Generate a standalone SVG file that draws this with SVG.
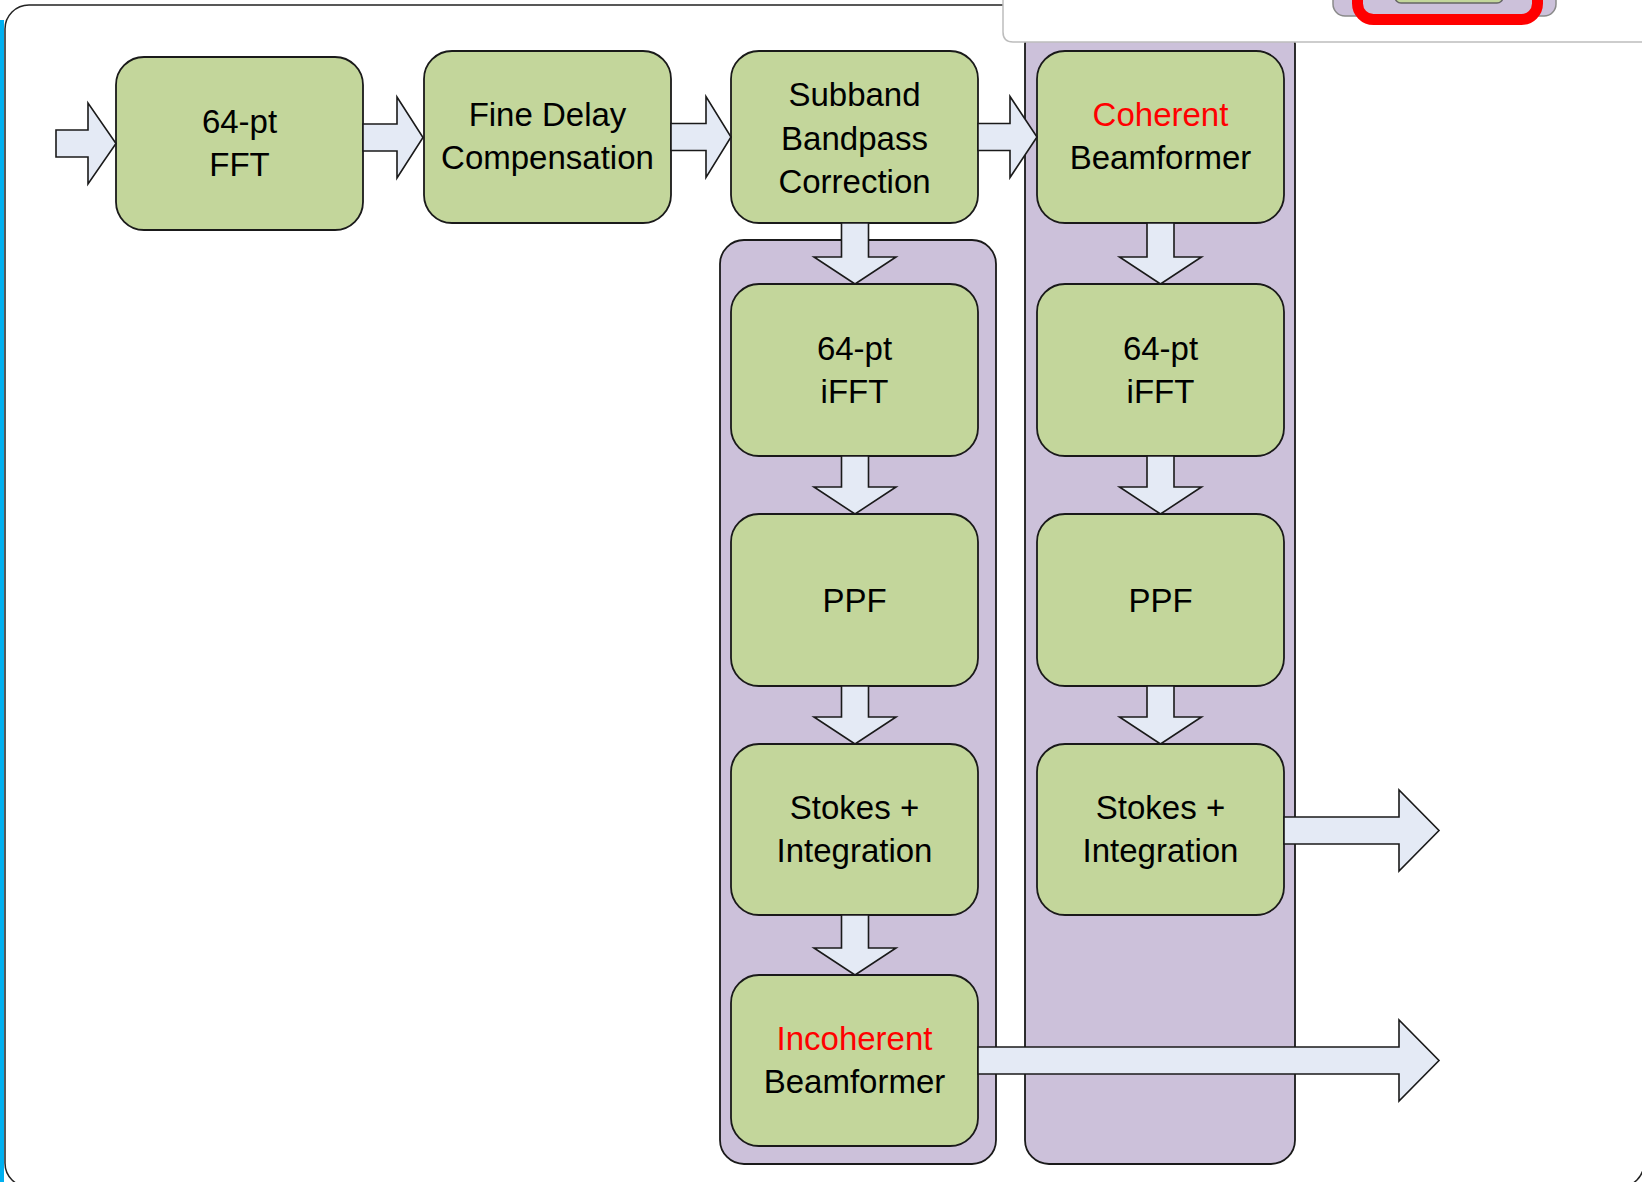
<svg xmlns="http://www.w3.org/2000/svg" width="1642" height="1182" viewBox="0 0 1642 1182">
<style>
.box{fill:#C3D69B;stroke:#1a1a1a;stroke-width:1.8}
.col{fill:#CCC1DA;stroke:#1a1a1a;stroke-width:1.8}
.arr{fill:#E4EAF5;stroke:#1a1a1a;stroke-width:1.6;stroke-linejoin:miter}
text{font-family:"Liberation Sans",Arial,sans-serif;font-size:33px;fill:#000;text-anchor:middle}
.red{fill:#FF0000}
</style>
<rect x="0" y="0" width="1642" height="1182" fill="#FFFFFF"/>
<rect id="frame" x="5" y="5" width="1639" height="1182" rx="24" fill="#FFFFFF" stroke="#222" stroke-width="1.5"/>
<rect id="blue-strip" x="0" y="20" width="4" height="1162" fill="#00B0F0"/>

<g id="column-incoherent"><rect class="col" x="720" y="240" width="276" height="924" rx="24"/></g>
<g id="column-coherent"><rect class="col" x="1025" y="20" width="270" height="1144" rx="24"/></g>

<g id="fft64"><rect class="box" x="116" y="57" width="247" height="173" rx="28"/>
<text x="239.5" y="132.5">64-pt</text><text x="239.5" y="175.5">FFT</text></g>
<g id="fine-delay"><rect class="box" x="424" y="51" width="247" height="172" rx="28"/>
<text x="547.5" y="126">Fine Delay</text><text x="547.5" y="169">Compensation</text></g>
<g id="subband"><rect class="box" x="731" y="51" width="247" height="172" rx="28"/>
<text x="854.5" y="105.5">Subband</text><text x="854.5" y="149.5">Bandpass</text><text x="854.5" y="192.5">Correction</text></g>
<g id="coherent-bf"><rect class="box" x="1037" y="51" width="247" height="172" rx="28"/>
<text x="1160.5" y="126" class="red">Coherent</text><text x="1160.5" y="169">Beamformer</text></g>

<g id="ifft-left"><rect class="box" x="731" y="284" width="247" height="172" rx="28"/>
<text x="854.5" y="360">64-pt</text><text x="854.5" y="403">iFFT</text></g>
<g id="ppf-left"><rect class="box" x="731" y="514" width="247" height="172" rx="28"/>
<text x="854.5" y="612">PPF</text></g>
<g id="stokes-left"><rect class="box" x="731" y="744" width="247" height="171" rx="28"/>
<text x="854.5" y="819">Stokes +</text><text x="854.5" y="862">Integration</text></g>
<g id="incoherent-bf"><rect class="box" x="731" y="975" width="247" height="171" rx="28"/>
<text x="854.5" y="1050" class="red">Incoherent</text><text x="854.5" y="1093">Beamformer</text></g>

<g id="ifft-right"><rect class="box" x="1037" y="284" width="247" height="172" rx="28"/>
<text x="1160.5" y="360">64-pt</text><text x="1160.5" y="403">iFFT</text></g>
<g id="ppf-right"><rect class="box" x="1037" y="514" width="247" height="172" rx="28"/>
<text x="1160.5" y="612">PPF</text></g>
<g id="stokes-right"><rect class="box" x="1037" y="744" width="247" height="171" rx="28"/>
<text x="1160.5" y="819">Stokes +</text><text x="1160.5" y="862">Integration</text></g>

<g id="connectors">
<polygon class="arr" points="56,130 88,130 88,103 116,143.5 88,184 88,157 56,157"/>
<polygon class="arr" points="363,124 397,124 397,97 423,137.5 397,178 397,151 363,151"/>
<polygon class="arr" points="671,123.5 706,123.5 706,96.5 731,137 706,177.5 706,150.5 671,150.5"/>
<polygon class="arr" points="978,123.5 1010,123.5 1010,96.5 1037,137 1010,177.5 1010,150.5 978,150.5"/>

<polygon class="arr" points="841.5,223 868.5,223 868.5,257 896,257 855,284 814,257 841.5,257"/>
<polygon class="arr" points="841.5,456 868.5,456 868.5,487 896,487 855,514 814,487 841.5,487"/>
<polygon class="arr" points="841.5,686 868.5,686 868.5,717 896,717 855,744 814,717 841.5,717"/>
<polygon class="arr" points="841.5,915 868.5,915 868.5,948 896,948 855,975 814,948 841.5,948"/>

<polygon class="arr" points="1147,223 1174,223 1174,257 1201.5,257 1160.5,284 1119.5,257 1147,257"/>
<polygon class="arr" points="1147,456 1174,456 1174,487 1201.5,487 1160.5,514 1119.5,487 1147,487"/>
<polygon class="arr" points="1147,686 1174,686 1174,717 1201.5,717 1160.5,744 1119.5,717 1147,717"/>

<polygon class="arr" points="1284,817 1399,817 1399,790 1439,830.5 1399,871 1399,844 1284,844"/>
<polygon class="arr" points="978,1047 1399,1047 1399,1020 1439,1060.5 1399,1101 1399,1074 978,1074"/>
</g>

<g id="popup">
<path d="M1003,-2 L1003,32 Q1003,42 1013,42 L1645,42 L1645,-2 Z" fill="#FFFFFF" stroke="#BDBDBD" stroke-width="1.5"/>
<rect x="1333" y="-20" width="223" height="36" rx="12" fill="#CCC1DA" stroke="#8a8a8a" stroke-width="1.5"/>
<rect x="1357.5" y="-30" width="180" height="49.5" rx="16" fill="none" stroke="#FF0000" stroke-width="11"/>
<rect x="1395" y="-20" width="108" height="23" rx="6" fill="#C3D69B" stroke="#666" stroke-width="1.5"/>
</g>
</svg>
